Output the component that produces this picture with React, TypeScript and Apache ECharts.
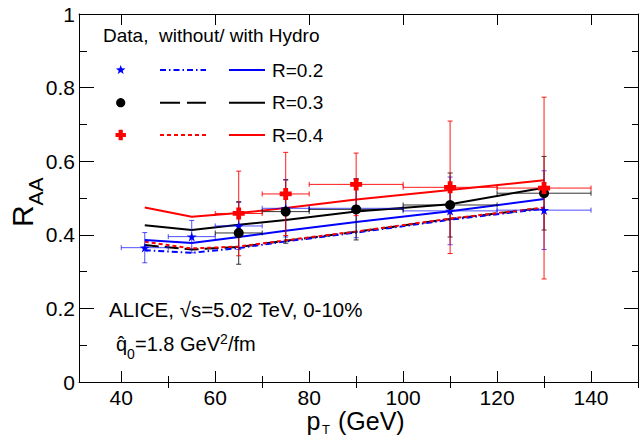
import React, { useEffect, useRef } from 'react';
import * as echarts from 'echarts';

// ---- axis ticks ----
const xMajor = [40, 60, 80, 100, 120, 140];
const xMinor = [50, 70, 90, 110, 130, 150];

// ---- data (ALICE) ----
const ptR02 = [45, 55, 65, 75, 90, 110, 130];
const raaR02 = [0.365, 0.395, 0.424, 0.472, 0.472, 0.465, 0.467];
const ptErrR02 = [5, 5, 5, 5, 10, 10, 10];
const raaErrR02 = [0.041, 0.044, 0.064, 0.078, 0.08, 0.092, 0.107];

const ptR03 = [65, 75, 90, 110, 130];
const raaR03 = [0.405, 0.463, 0.469, 0.481, 0.513];
const ptErrR03 = [5, 5, 10, 10, 10];
const raaErrR03 = [0.085, 0.086, 0.083, 0.087, 0.1];

const ptR04 = [65, 75, 90, 110, 130];
const raaR04 = [0.458, 0.511, 0.537, 0.529, 0.527];
const ptErrR04 = [5, 5, 10, 10, 10];
const raaErrR04 = [0.115, 0.113, 0.085, 0.18, 0.247];

// ---- model curves ----
const ptModel = [45, 55, 65, 75, 90, 110, 130];
const hydroR02 = [0.386, 0.378, 0.394, 0.411, 0.435, 0.464, 0.497];
const hydroR03 = [0.426, 0.413, 0.427, 0.44, 0.463, 0.483, 0.528];
const hydroR04 = [0.474, 0.449, 0.459, 0.473, 0.496, 0.522, 0.548];
const noHydroR02 = [0.358, 0.351, 0.364, 0.382, 0.406, 0.441, 0.471];
const noHydroR03 = [0.372, 0.36, 0.367, 0.384, 0.408, 0.443, 0.473];
const noHydroR04 = [0.381, 0.363, 0.368, 0.385, 0.409, 0.444, 0.474];

const FONT = '"Liberation Sans", Arial, Helvetica, sans-serif';
const BLUE = '#0000ff';
const RED = '#ff0000';
const BLACK = '#000000';

const STAR = 'path://M50 0 L61 35 L98 35 L68 57 L79 91 L50 70 L21 91 L32 57 L2 35 L39 35 Z';
const PLUS = 'path://M3 0 L7 0 L7 3 L10 3 L10 7 L7 7 L7 10 L3 10 L3 7 L0 7 L0 3 L3 3 Z';

function lineSeries(xs: number[], ys: number[], color: string, dash: any) {
  return {
    type: 'line',
    data: xs.map((x, i) => [x, ys[i]]),
    symbol: 'none',
    silent: true,
    z: 2,
    lineStyle: { color, width: 2, type: dash },
  };
}

function errSeries(xs: number[], ys: number[], xe: number[], ye: number[], color: string, z: number) {
  return {
    type: 'custom',
    silent: true,
    z,
    data: xs.map((x, i) => [x, ys[i], xe[i], ye[i]]),
    encode: { x: 0, y: 1 },
    renderItem: (params: any, api: any) => {
      const x = api.value(0), y = api.value(1), dx = api.value(2), dy = api.value(3);
      const l = api.coord([x - dx, y]);
      const r = api.coord([x + dx, y]);
      const t = api.coord([x, y + dy]);
      const b = api.coord([x, y - dy]);
      const c = 2.5;
      const st = { stroke: color, lineWidth: 1 };
      const ln = (x1: number, y1: number, x2: number, y2: number) => ({
        type: 'line', shape: { x1, y1, x2, y2 }, style: st,
      });
      return {
        type: 'group',
        children: [
          ln(l[0], l[1], r[0], r[1]),
          ln(t[0], t[1], b[0], b[1]),
          ln(l[0], l[1] - c, l[0], l[1] + c),
          ln(r[0], r[1] - c, r[0], r[1] + c),
          ln(t[0] - c, t[1], t[0] + c, t[1]),
          ln(b[0] - c, b[1], b[0] + c, b[1]),
        ],
      };
    },
  };
}

function markerSeries(xs: number[], ys: number[], symbol: string, size: number, color: string, z: number) {
  return {
    type: 'scatter',
    silent: true,
    z,
    symbol,
    symbolSize: size,
    symbolKeepAspect: true,
    itemStyle: { color, opacity: 1 },
    data: xs.map((x, i) => [x, ys[i]]),
  };
}

function starPoints(cx: number, cy: number, R: number, r: number) {
  const pts: number[][] = [];
  for (let i = 0; i < 10; i++) {
    const a = -Math.PI / 2 + (i * Math.PI) / 5;
    const rad = i % 2 === 0 ? R : r;
    pts.push([cx + rad * Math.cos(a), cy + rad * Math.sin(a)]);
  }
  return pts;
}

function plusPoints(cx: number, cy: number, h: number, w: number) {
  return [
    [cx - w, cy - h], [cx + w, cy - h], [cx + w, cy - w], [cx + h, cy - w],
    [cx + h, cy + w], [cx + w, cy + w], [cx + w, cy + h], [cx - w, cy + h],
    [cx - w, cy + w], [cx - h, cy + w], [cx - h, cy - w], [cx - w, cy - w],
  ];
}

const txt = (text: string, x: number, y: number, fontSize: number, extra: any = {}) => ({
  type: 'text',
  x,
  y,
  style: { text, fontSize, fontFamily: FONT, fill: '#000', align: 'left', verticalAlign: 'middle', ...extra },
});

const hl = (x1: number, x2: number, y: number, color: string, dash: any) => ({
  type: 'line',
  shape: { x1, y1: y, x2, y2: y },
  style: { stroke: color, lineWidth: 2, lineDash: dash },
});

export default function App() {
  const ref = useRef<HTMLDivElement>(null);
  useEffect(() => {
    if (!ref.current) return;
    const chart = echarts.init(ref.current, undefined, { renderer: 'svg' });
    const xBase = { type: 'value', min: 31, max: 150, gridIndex: 0, splitLine: { show: false } };
    const yBase = { type: 'value', min: 0, max: 1, interval: 0.2, splitLine: { show: false } };
    const axisLine = { show: true, onZero: false, lineStyle: { color: '#000', width: 1 } };
    const rowY = [70, 102.7, 135];
    const option: any = {
      animation: false,
      textStyle: { fontFamily: FONT },
      grid: { left: 79, right: 1, top: 14, bottom: 55, containLabel: false },
      xAxis: [
        {
          ...xBase, position: 'bottom', axisLine,
          axisTick: { show: true, inside: true, length: 11, customValues: xMajor, lineStyle: { color: '#000' } },
          axisLabel: { show: true, customValues: xMajor, fontSize: 21, color: '#000', margin: 5, fontFamily: FONT },
        },
        {
          ...xBase, position: 'bottom', axisLine: { show: false },
          axisTick: { show: true, inside: true, length: 6, customValues: xMinor, lineStyle: { color: '#000' } },
          axisLabel: { show: false, customValues: xMinor },
        },
        {
          ...xBase, position: 'top', axisLine,
          axisTick: { show: true, inside: true, length: 11, customValues: xMajor, lineStyle: { color: '#000' } },
          axisLabel: { show: false, customValues: xMajor },
        },
        {
          ...xBase, position: 'top', axisLine: { show: false },
          axisTick: { show: true, inside: true, length: 6, customValues: xMinor, lineStyle: { color: '#000' } },
          axisLabel: { show: false, customValues: xMinor },
        },
      ],
      yAxis: [
        {
          ...yBase, position: 'left', axisLine,
          axisTick: { show: true, inside: true, length: 15, lineStyle: { color: '#000' } },
          minorTick: { show: true, splitNumber: 2, length: 8, lineStyle: { color: '#000' } },
          axisLabel: { show: true, fontSize: 21, color: '#000', margin: 4, fontFamily: FONT },
        },
        {
          ...yBase, position: 'right', axisLine,
          axisTick: { show: true, inside: true, length: 14, lineStyle: { color: '#000' } },
          minorTick: { show: true, splitNumber: 2, length: 6, lineStyle: { color: '#000' } },
          axisLabel: { show: false },
        },
      ],
      series: [
        lineSeries(ptModel, noHydroR03, BLACK, [14, 6]),
        lineSeries(ptModel, noHydroR02, BLUE, [6, 3, 1.5, 3]),
        lineSeries(ptModel, noHydroR04, RED, [4, 3]),
        lineSeries(ptModel, hydroR03, BLACK, 'solid'),
        lineSeries(ptModel, hydroR02, BLUE, 'solid'),
        lineSeries(ptModel, hydroR04, RED, 'solid'),
        errSeries(ptR02, raaR02, ptErrR02, raaErrR02, 'rgba(20,20,255,0.75)', 3),
        errSeries(ptR03, raaR03, ptErrR03, raaErrR03, 'rgba(0,0,0,0.8)', 3),
        errSeries(ptR04, raaR04, ptErrR04, raaErrR04, 'rgba(255,0,0,0.9)', 3),
        markerSeries(ptR02, raaR02, STAR, 10, BLUE, 4),
        markerSeries(ptR03, raaR03, 'circle', 10, BLACK, 5),
        markerSeries(ptR04, raaR04, PLUS, 12, RED, 6),
      ],
      graphic: [
        // legend
        txt('Data,\u00a0 without/ with Hydro', 103, 35, 19),
        { type: 'polygon', shape: { points: starPoints(120.7, rowY[0], 5, 2.1) }, style: { fill: BLUE } },
        { type: 'circle', shape: { cx: 120.7, cy: rowY[1], r: 4.6 }, style: { fill: BLACK } },
        { type: 'polygon', shape: { points: plusPoints(120.7, rowY[2], 5.2, 2.1) }, style: { fill: RED } },
        hl(160, 206, rowY[0], BLUE, [6, 3, 1.5, 3]),
        hl(160, 206, rowY[1], BLACK, [20, 7]),
        hl(160, 206, rowY[2], RED, [4, 3]),
        hl(229, 265, rowY[0], BLUE, null),
        hl(229, 265, rowY[1], BLACK, null),
        hl(229, 265, rowY[2], RED, null),
        txt('R=0.2', 272, rowY[0], 19),
        txt('R=0.3', 272, rowY[1], 19),
        txt('R=0.4', 272, rowY[2], 19),
        // annotations
        txt('ALICE, \u221As=5.02 TeV, 0-10%', 109, 309.5, 20.5),
        txt('q\u0302', 116, 344, 20),
        txt('0', 127, 354, 14),
        txt('=1.8 GeV', 135, 344, 20),
        txt('2', 220, 339, 14),
        txt('/fm', 228, 344, 20),
        // axis titles
        txt('p', 306.5, 421.3, 25),
        txt('T', 322, 429.5, 13),
        txt('(GeV)', 338, 421.3, 25),
        {
          type: 'group', x: 0, y: 227, rotation: Math.PI / 2,
          children: [
            txt('R', 0, 22.8, 30),
            txt('AA', 21.5, 35.5, 21),
          ],
        },
      ],
    };
    chart.setOption(option);
    return () => chart.dispose();
  }, []);
  return (
    <div
      ref={ref}
      style={{ position: 'fixed', left: 0, top: 0, width: 639, height: 437, background: '#fff' }}
    />
  );
}
